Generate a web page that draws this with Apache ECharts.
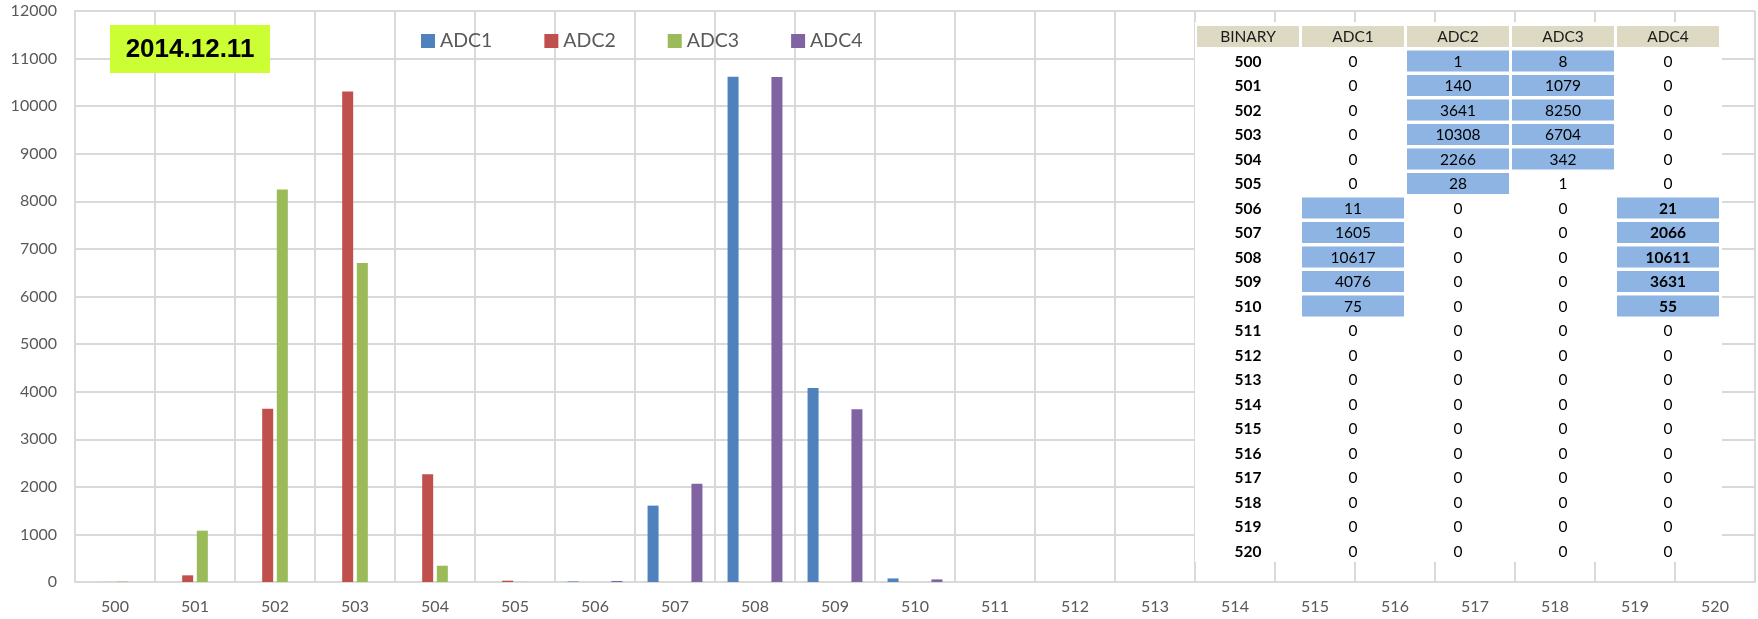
<!DOCTYPE html>
<html>
<head>
<meta charset="utf-8">
<script src="https://cdn.jsdelivr.net/npm/echarts@6/dist/echarts.min.js"></script>
<style>
  html, body { margin: 0; padding: 0; background: #ffffff; }
  #chart { width: 1758px; height: 619px; }
</style>
</head>
<body>
<div id="chart"></div>
<script>
// Binary codes on the horizontal axis
const binaries = ['500','501','502','503','504','505','506','507','508','509','510',
                  '511','512','513','514','515','516','517','518','519','520'];

// Hit counts per binary code for each ADC channel
const adc1 = [0, 0, 0, 0, 0, 0, 11, 1605, 10617, 4076, 75, 0, 0, 0, 0, 0, 0, 0, 0, 0, 0];
const adc2 = [1, 140, 3641, 10308, 2266, 28, 0, 0, 0, 0, 0, 0, 0, 0, 0, 0, 0, 0, 0, 0, 0];
const adc3 = [8, 1079, 8250, 6704, 342, 1, 0, 0, 0, 0, 0, 0, 0, 0, 0, 0, 0, 0, 0, 0, 0];
const adc4 = [0, 0, 0, 0, 0, 0, 21, 2066, 10611, 3631, 55, 0, 0, 0, 0, 0, 0, 0, 0, 0, 0];

const seriesNames = ['ADC1', 'ADC2', 'ADC3', 'ADC4'];
const seriesColors = ['#4F81BD', '#C0504D', '#9BBB59', '#8064A2'];

// Value axis range
const yMin = 0;
const yMax = 12000;
const yStep = 1000;

const dateLabel = '2014.12.11';

// Shaded span (first, last binary) of each channel column in the summary table
const markedRanges = [['506', '510'], ['500', '505'], ['500', '504'], ['506', '510']];
// Channel columns whose shaded values are printed in bold
const boldMarked = [false, false, false, true];

const allSeries = [adc1, adc2, adc3, adc4];
const FONT = 'Lato, "Open Sans", sans-serif';
const TOP_Z = 100;

// ---- summary table drawn as graphic elements ----
const tbl = { x0: 1197, colPitch: 105, cellW: 102, headY: 36.5, rowPitch: 24.5, cellH: 21 };
const tableEls = [];
tableEls.push({
  type: 'rect', z: TOP_Z, shape: { x: 1195, y: 22, width: 527, height: 540 },
  style: { fill: '#ffffff' }
});
const headers = ['BINARY'].concat(seriesNames);
headers.forEach(function (h, c) {
  const x = tbl.x0 + c * tbl.colPitch;
  tableEls.push({
    type: 'rect', z: TOP_Z + 1,
    shape: { x: x, y: tbl.headY - tbl.cellH / 2, width: tbl.cellW, height: tbl.cellH },
    style: { fill: '#DDD9C3' }
  });
  tableEls.push({
    type: 'text', z: TOP_Z + 2,
    style: { text: h, x: x + tbl.cellW / 2, y: tbl.headY + 0.5, align: 'center', verticalAlign: 'middle',
             font: '15.5px ' + FONT, fill: '#1a1a1a' }
  });
});
binaries.forEach(function (b, r) {
  const cy = tbl.headY + (r + 1) * tbl.rowPitch;
  tableEls.push({
    type: 'text', z: TOP_Z + 2,
    style: { text: b, x: tbl.x0 + tbl.cellW / 2, y: cy + 0.5, align: 'center', verticalAlign: 'middle',
             font: 'bold 15.5px ' + FONT, fill: '#000000' }
  });
  allSeries.forEach(function (arr, s) {
    const x = tbl.x0 + (s + 1) * tbl.colPitch;
    const lo = binaries.indexOf(markedRanges[s][0]);
    const hi = binaries.indexOf(markedRanges[s][1]);
    const marked = r >= lo && r <= hi;
    if (marked) {
      tableEls.push({
        type: 'rect', z: TOP_Z + 1,
        shape: { x: x, y: cy - tbl.cellH / 2, width: tbl.cellW, height: tbl.cellH },
        style: { fill: '#8DB4E2' }
      });
    }
    tableEls.push({
      type: 'text', z: TOP_Z + 2,
      style: { text: String(arr[r]), x: x + tbl.cellW / 2, y: cy + 0.5, align: 'center', verticalAlign: 'middle',
               font: ((marked && boldMarked[s]) ? 'bold ' : '') + '15.5px ' + FONT, fill: '#000000' }
    });
  });
});

// ---- date badge ----
const badgeEls = [
  { type: 'rect', z: TOP_Z, shape: { x: 110, y: 25, width: 160, height: 48 }, style: { fill: '#CCFF33' } },
  { type: 'text', z: TOP_Z + 1, style: { text: dateLabel, x: 190, y: 50, align: 'center', verticalAlign: 'middle',
      font: 'bold 26px "Liberation Sans", Arial, sans-serif', fill: '#000000' } }
];

const gridColor = '#d9d9d9';
const chart = echarts.init(document.getElementById('chart'), null, { renderer: 'canvas' });

chart.setOption({
  animation: false,
  backgroundColor: '#ffffff',
  color: seriesColors,
  grid: { left: 75, right: 3, top: 11, bottom: 37, containLabel: false, outerBoundsMode: 'none' },
  legend: {
    data: seriesNames,
    left: 416, top: 26,
    icon: 'rect', itemWidth: 14, itemHeight: 14, itemGap: 52,
    textStyle: { color: '#595959', fontSize: 19.5, fontFamily: FONT, width: 52 }
  },
  xAxis: {
    type: 'category',
    data: binaries,
    boundaryGap: true,
    axisLine: { show: true, lineStyle: { color: gridColor, width: 2 } },
    axisTick: { show: false },
    axisLabel: { interval: 0, color: '#595959', fontSize: 16, fontFamily: FONT, margin: 17 },
    splitLine: { show: true, interval: 0, lineStyle: { color: gridColor, width: 2 } }
  },
  yAxis: {
    type: 'value',
    min: yMin, max: yMax, interval: yStep,
    axisLine: { show: true, lineStyle: { color: gridColor, width: 2 } },
    axisTick: { show: false },
    axisLabel: { color: '#595959', fontSize: 16, fontFamily: FONT, margin: 18,
                 formatter: function (v) { return String(v); } },
    splitLine: { show: true, lineStyle: { color: gridColor, width: 2 } }
  },
  series: allSeries.map(function (arr, i) {
    return {
      name: seriesNames[i],
      type: 'bar',
      data: arr,
      barWidth: 11,
      barGap: '33%',
      itemStyle: { color: seriesColors[i] }
    };
  }),
  graphic: { elements: [
    { type: 'group', zlevel: 1, z: TOP_Z, children: tableEls },
    { type: 'group', zlevel: 1, z: TOP_Z, children: badgeEls }
  ] }
});
</script>
</body>
</html>
